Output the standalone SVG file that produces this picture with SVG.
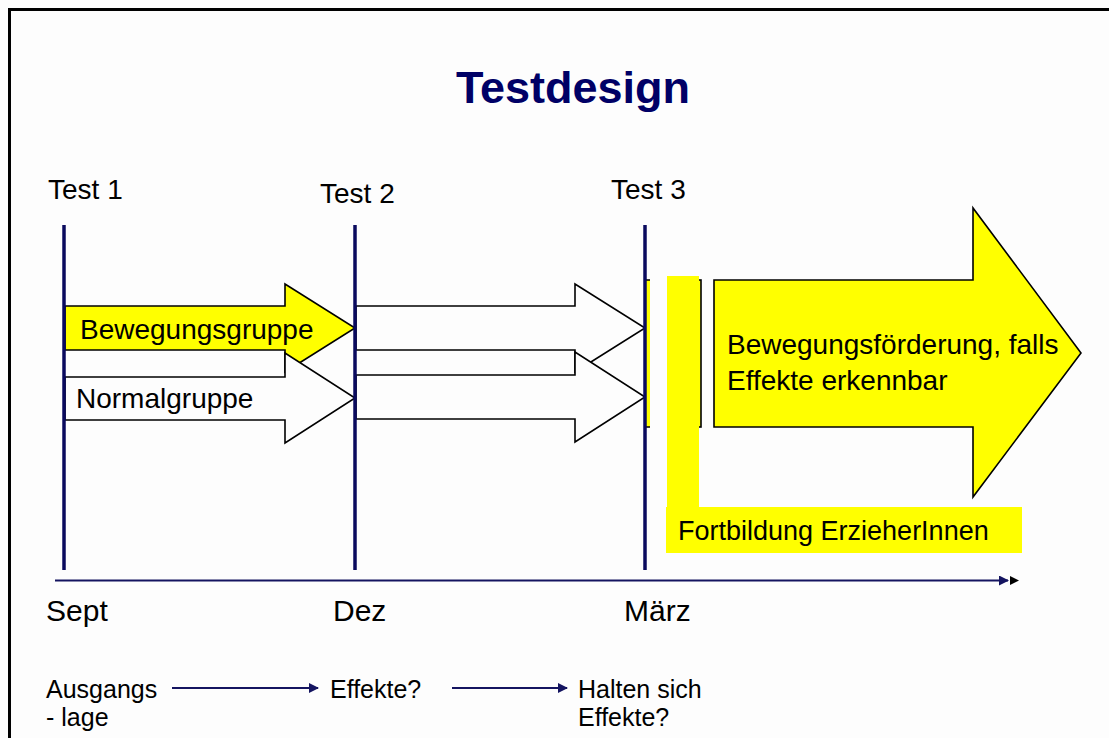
<svg xmlns="http://www.w3.org/2000/svg" width="1109" height="738" viewBox="0 0 1109 738">
<defs>
<style>
.t{font-family:"Liberation Sans",Arial,sans-serif;fill:#000}
.lbl{font-size:28px}
.sm{font-size:25px}
.blk{stroke:#000;stroke-width:1.6;stroke-linejoin:miter}
.yel{fill:#ffff00}
.wht{fill:#fdfdfd}
.vl{stroke:#0a0a5e;stroke-width:3.5}
.conn{stroke:#141460;stroke-width:2;fill:none}
</style>
<marker id="ah" viewBox="0 0 10 10" refX="9" refY="5" markerWidth="5" markerHeight="5" orient="auto" markerUnits="strokeWidth">
<path d="M0,0 L10,5 L0,10 z" fill="#141460"/>
</marker>
</defs>
<rect x="0" y="0" width="1109" height="738" fill="#fdfdfd"/>
<path d="M9.5,740 V9.5 H1112" fill="none" stroke="#000" stroke-width="3"/>

<g id="title"><text class="t" x="573" y="103" font-size="45" font-weight="bold" fill="#000066" style="fill:#000066" text-anchor="middle">Testdesign</text></g>

<g id="arrow-beweg"><polygon class="blk yel" points="65,306 285,306 285,284 355,328 285,372 285,350 65,350"/>
<text class="t lbl" x="80" y="339">Bewegungsgruppe</text></g>
<g id="arrow-normal"><polygon class="blk wht" points="65,377 285,377 285,353 355,398 285,443 285,420 65,420"/>
<text class="t lbl" x="76" y="408">Normalgruppe</text></g>
<g id="arrow-beweg-2"><polygon class="blk wht" points="356,306 575,306 575,284 645,328 575,372 575,350 356,350"/></g>
<g id="arrow-normal-2"><polygon class="blk wht" points="356,375 575,375 575,352 645,397 575,442 575,419 356,419"/></g>

<g id="big-arrow">
<rect class="yel" x="645" y="280" width="5" height="147"/>
<path d="M645,280 H650 M645,427 H650" stroke="#000" stroke-width="1.6"/>
<rect class="blk yel" x="688" y="280" width="13" height="147"/>
<polygon class="blk yel" points="714,280 973,280 973,208 1081,353 973,497 973,427 714,427"/>
<text class="t lbl" x="727" y="354">Bewegungsförderung, falls</text>
<text class="t lbl" x="727" y="390">Effekte erkennbar</text>
</g>

<g id="fortbildung">
<rect class="yel" x="667" y="276" width="32" height="232"/>
<rect class="yel" x="666" y="507" width="356" height="46"/>
<text class="t" x="678" y="540" font-size="27">Fortbildung ErzieherInnen</text>
</g>

<g id="test1"><line class="vl" x1="64" y1="225" x2="64" y2="570"/><text class="t lbl" x="48" y="199">Test 1</text><text class="t" x="46" y="621" font-size="30">Sept</text></g>
<g id="test2"><line class="vl" x1="355" y1="225" x2="355" y2="570"/><text class="t lbl" x="320" y="203">Test 2</text><text class="t" x="333" y="621" font-size="30">Dez</text></g>
<g id="test3"><line class="vl" x1="645" y1="225" x2="645" y2="570"/><text class="t lbl" x="611" y="199">Test 3</text><text class="t" x="624" y="621" font-size="30">März</text></g>

<g id="bottom-labels">
<text class="t sm" x="46" y="698">Ausgangs</text>
<text class="t sm" x="46" y="726">- lage</text>
<text class="t sm" x="330" y="698">Effekte?</text>
<text class="t sm" x="578" y="698">Halten sich</text>
<text class="t sm" x="578" y="726">Effekte?</text>
</g>

<g id="connectors">
<line class="conn" x1="55" y1="580.5" x2="1008" y2="580.5" marker-end="url(#ah)"/>
<path d="M1010,576 L1019,580.5 L1010,585 z" fill="#000"/>
<line class="conn" x1="172" y1="688" x2="318" y2="688" marker-end="url(#ah)"/>
<line class="conn" x1="452" y1="688" x2="567" y2="688" marker-end="url(#ah)"/>
</g>
</svg>
